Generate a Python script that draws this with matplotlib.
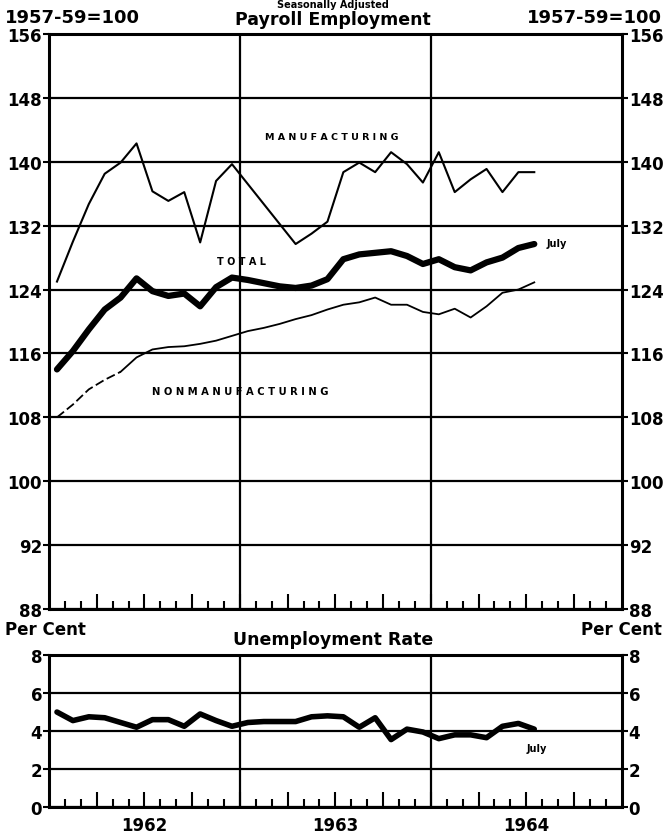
"""
Payroll employment and unemployment rate, 1962-1964 (monthly, seasonally adjusted).
"""
import matplotlib
matplotlib.use("Agg")
import matplotlib.pyplot as plt
import numpy as np

# ── data: Jan 1962 .. Jul 1964 ─────────────────────────────────────────────
months = np.arange(31) + 0.5

manufacturing = [125.0, 130.0, 134.7, 138.5, 139.9, 142.3, 136.3, 135.1, 136.2, 129.9,
                 137.6, 139.7, 137.2, 134.7, 132.2, 129.7, 131.0, 132.5, 138.7, 139.9,
                 138.7, 141.2, 139.7, 137.4, 141.2, 136.2, 137.8, 139.1, 136.2, 138.7,
                 138.7]
total = [114.0, 116.3, 119.0, 121.5, 123.0, 125.4, 123.8, 123.2, 123.5, 121.9,
         124.3, 125.5, 125.2, 124.8, 124.4, 124.2, 124.5, 125.3, 127.8, 128.4,
         128.6, 128.8, 128.2, 127.2, 127.8, 126.8, 126.4, 127.4, 128.0, 129.2,
         129.7]
nonmanufacturing = [108.0, 109.6, 111.5, 112.7, 113.7, 115.5, 116.5, 116.8, 116.9, 117.2,
                    117.6, 118.2, 118.8, 119.2, 119.7, 120.3, 120.8, 121.5, 122.1, 122.4,
                    123.0, 122.1, 122.1, 121.2, 120.9, 121.6, 120.5, 121.9, 123.6, 124.0,
                    124.9]
unemployment = [5.0, 4.55, 4.75, 4.7, 4.45, 4.2, 4.6, 4.6, 4.25, 4.9,
                4.55, 4.25, 4.45, 4.5, 4.5, 4.5, 4.75, 4.8, 4.75, 4.2,
                4.7, 3.55, 4.1, 3.95, 3.6, 3.8, 3.8, 3.65, 4.25, 4.4,
                4.1]

payroll_ticks = [84, 92, 100, 108, 116, 124, 132, 140, 148, 156]
payroll_labels = ["88", "92", "100", "108", "116", "124", "132", "140", "148", "156"]
rate_ticks = [0, 2, 4, 6, 8]
years = ["1962", "1963", "1964"]

INK = "black"
BOLD = "DejaVu Sans"

plt.rcParams["font.family"] = BOLD
plt.rcParams["font.weight"] = "bold"

fig = plt.figure(figsize=(6.66, 8.37), dpi=100)
ax = fig.add_axes([0.0736, 0.2712, 0.860, 0.687])
ax2 = fig.add_axes([0.0736, 0.0346, 0.860, 0.1816])


def style(a, yticks, ylabels, ylim):
    a.set_xlim(0, 36)
    a.set_ylim(*ylim)
    a.set_yticks(yticks)
    a.set_yticklabels(ylabels)
    a.tick_params(axis="y", left=True, right=True, labelleft=True, labelright=True,
                  direction="out", length=4, width=1.5, pad=1, labelsize=12, colors=INK)
    # month ticks along the bottom, quarters taller
    a.set_xticks([m for m in range(3, 36, 3)])
    a.set_xticks(list(range(1, 36)), minor=True)
    a.tick_params(axis="x", which="major", direction="in", length=11, width=1.5,
                  labelbottom=False, top=False)
    a.tick_params(axis="x", which="minor", direction="in", length=6, width=1.5, top=False)
    a.yaxis.grid(True, color=INK, linewidth=1.6)
    for x in (12, 24):
        a.axvline(x, color=INK, linewidth=1.6)
    for s in a.spines.values():
        s.set_linewidth(2.2)
        s.set_color(INK)


style(ax, payroll_ticks, payroll_labels, (84, 156))
style(ax2, rate_ticks, [str(t) for t in rate_ticks], (0, 8))

# payroll lines
ax.plot(months, manufacturing, color=INK, linewidth=1.5, zorder=3)
ax.plot(months, total, color=INK, linewidth=4.5, solid_capstyle="round",
        solid_joinstyle="round", zorder=4)
ax.plot(months[:5], nonmanufacturing[:5], color=INK, linewidth=1.3,
        linestyle=(0, (5, 2)), zorder=3)
ax.plot(months[4:], nonmanufacturing[4:], color=INK, linewidth=1.3, zorder=3)

ax.text(17.8, 143.2, "M A N U F A C T U R I N G", ha="center", va="center", fontsize=6.8)
ax.text(12.1, 127.6, "T O T A L", ha="center", va="center", fontsize=7)
ax.text(12.0, 111.3, "N O N M A N U F A C T U R I N G", ha="center", va="center", fontsize=7.2)
ax.text(31.3, 129.8, "July", ha="left", va="center", fontsize=7)

# unemployment rate
ax2.plot(months, unemployment, color=INK, linewidth=4, solid_joinstyle="round",
         solid_capstyle="round", zorder=3)
ax2.text(30.0, 3.1, "July", ha="left", va="center", fontsize=7)

for i, y in enumerate(years):
    ax2.text(6 + 12 * i, -0.45, y, ha="center", va="top", fontsize=12,
             transform=ax2.transData, clip_on=False)

# titles and units
fig.text(0.5, 0.9995, "Seasonally Adjusted", ha="center", va="top", fontsize=7)
fig.text(0.5, 0.976, "Payroll Employment", ha="center", va="center", fontsize=12.5)
fig.text(0.008, 0.979, "1957-59=100", ha="left", va="center", fontsize=13)
fig.text(0.994, 0.979, "1957-59=100", ha="right", va="center", fontsize=13)
fig.text(0.5, 0.235, "Unemployment Rate", ha="center", va="center", fontsize=12.5)
fig.text(0.008, 0.247, "Per Cent", ha="left", va="center", fontsize=12)
fig.text(0.994, 0.247, "Per Cent", ha="right", va="center", fontsize=12)

fig.savefig("out.png", dpi=100, facecolor="white")
